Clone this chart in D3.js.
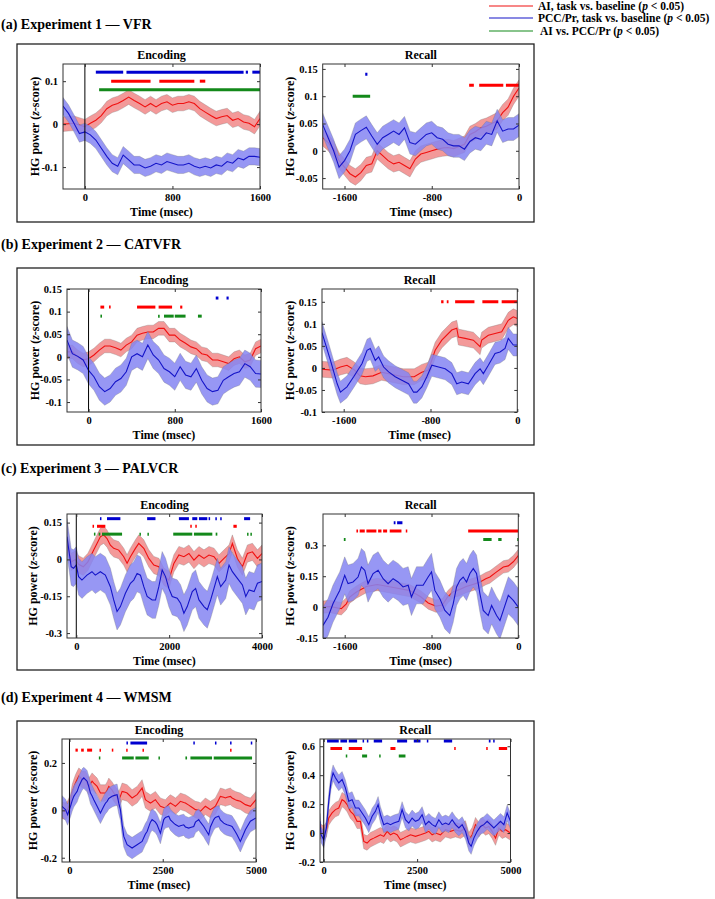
<!DOCTYPE html>
<html>
<head>
<meta charset="utf-8">
<script src="https://cdn.jsdelivr.net/npm/d3@7"></script>
<style>
  body { margin: 0; background: #fff; }
  svg text { font-family: "Liberation Serif", "Times New Roman", serif; font-weight: bold; fill: #000; }
</style>
</head>
<body>
<div id="chart"></div>
<script>
// ---- data (ms, z-score) ----
// (a) VFR
var aEncT = d3.range(-200, 1601, 50);
var aEncRed = [0,0.001,0.002,-0.002,-0.006,0.002,0.009,0.02,0.036,0.044,0.048,0.055,0.063,0.055,0.048,0.04,0.048,0.04,0.048,0.052,0.044,0.048,0.048,0.052,0.048,0.036,0.028,0.02,0.013,0.017,0.02,0.009,0.013,0.005,0.002,-0.006,0.013];
var aEncBlue = [0.042,0.025,0.002,-0.022,-0.018,-0.025,-0.037,-0.056,-0.075,-0.091,-0.098,-0.072,-0.083,-0.095,-0.095,-0.102,-0.098,-0.091,-0.095,-0.087,-0.091,-0.095,-0.095,-0.091,-0.098,-0.102,-0.098,-0.102,-0.095,-0.098,-0.087,-0.091,-0.079,-0.083,-0.075,-0.075,-0.077];
var aRecT = d3.range(-1800, 1, 50);
var aRecRed = [0.024,0.015,0.003,-0.018,-0.03,-0.042,-0.048,-0.04,-0.027,-0.024,0,-0.009,-0.018,-0.024,-0.021,-0.027,-0.033,-0.015,-0.006,-0.003,0,0.003,0.005,0.006,0.004,0.008,0.012,0.03,0.035,0.042,0.045,0.05,0.055,0.07,0.08,0.1,0.115];
var aRecBlue = [0.048,0.024,0,-0.03,-0.018,0,0.03,0.037,0.043,0.027,0.012,0.024,0.03,0.036,0.03,0.042,0.015,0.012,0.021,0.03,0.033,0.024,0.021,0.012,0.009,0.009,0.003,0.017,0.024,0.021,0.033,0.03,0.055,0.036,0.04,0.04,0.047];
var aSE = {encRed: 0.017, encBlue: 0.02, recRed: 0.015, recBlue: 0.021};
var aEncSig = {blue: [[100,350],[380,1450],[1470,1490],[1530,1600]], red: [[240,600],[680,1000],[1050,1100]], green: [[130,1600]]};
var aRecSig = {blue: [[-1410,-1390]], red: [[-457,-414],[-365,-144],[-120,0]], green: [[-1525,-1365]]};

// (b) CATVFR
var bEncT = d3.range(-200, 1601, 50);
var bEncRed = [0.011,0.011,0,-0.007,-0.004,0.004,0.015,0.024,0.024,0.02,0.015,0.026,0.033,0.048,0.052,0.055,0.055,0.063,0.063,0.048,0.048,0.037,0.03,0.022,0.018,0.007,0.004,-0.007,-0.007,-0.011,-0.015,-0.004,0,-0.011,-0.007,0.018,0.024];
var bEncBlue = [0.037,0.007,0.001,-0.007,-0.03,-0.044,-0.066,-0.077,-0.07,-0.055,-0.048,-0.033,0,0.007,0,0.026,0.004,-0.007,-0.026,-0.033,-0.044,-0.022,-0.04,-0.044,-0.026,-0.052,-0.07,-0.077,-0.074,-0.052,-0.044,-0.037,-0.033,-0.015,-0.022,-0.037,-0.038];
var bRecRedT = [-1800,-1700,-1630,-1570,-1500,-1450,-1400,-1330,-1250,-1150,-1050,-950,-880,-820,-757,-696,-604,-558,-543,-481,-405,-343,-328,-267,-205,-144,-83,-37,0];
var bRecRed = [-0.003,-0.005,0.002,0.006,-0.005,-0.018,-0.02,-0.018,-0.01,-0.015,-0.02,-0.02,-0.01,-0.005,0.04,0.063,0.086,0.09,0.07,0.067,0.063,0.048,0.063,0.074,0.078,0.082,0.108,0.116,0.112];
var bRecBlueT = [-1800,-1722,-1660,-1630,-1570,-1508,-1431,-1385,-1355,-1309,-1278,-1232,-1186,-1125,-1064,-1002,-956,-926,-880,-834,-788,-726,-665,-604,-558,-512,-451,-389,-343,-313,-267,-205,-159,-113,-83,-37,0];
var bRecBlue = [0.08,0.017,-0.036,-0.055,-0.043,-0.02,0.01,0.04,0.044,0.017,0.025,0.002,-0.009,-0.02,-0.028,-0.036,-0.055,-0.055,-0.043,-0.02,0.006,0.002,-0.002,-0.013,-0.036,-0.032,-0.036,-0.013,-0.002,-0.013,0.006,0.033,0.036,0.044,0.067,0.052,0.052];
var bSE = {encRed: 0.015, encBlue: 0.03, recRed: 0.018, recBlue: 0.025};
var bEncSig = {blue: [[1180,1205],[1280,1300]], red: [[110,145],[190,205],[450,620],[650,775],[850,870]], green: [[110,125],[645,660],[700,790],[800,900],[1015,1050]]};
var bRecSig = {blue: [], red: [[-702,-680],[-650,-634],[-573,-395],[-322,-175],[-144,0]], green: []};

// (c) PALVCR
var cEncRedT = [-200,-160,-110,-20,50,150,250,375,446,518,590,662,734,806,914,1022,1094,1166,1274,1346,1454,1562,1670,1778,1886,1994,2102,2210,2318,2426,2534,2642,2750,2858,2966,3074,3182,3290,3362,3470,3578,3686,3794,3902,4000];
var cEncRed = [0.06,0.04,-0.01,0,-0.02,-0.03,-0.01,0.038,0.065,0.092,0.1,0.085,0.058,0.045,0.038,0.011,-0.016,0.011,0.045,0.065,0.045,0.004,-0.023,-0.03,-0.07,-0.084,-0.016,0.018,0.011,0.024,-0.003,0.018,0.004,0.018,0.011,-0.016,0.004,0.024,0.065,0.004,-0.03,0.024,0.031,0.004,0.024];
var cEncBlueT = [-200,-160,-110,-60,0,50,122,230,338,410,518,626,734,806,878,950,1058,1166,1238,1310,1382,1454,1526,1634,1706,1778,1850,1922,1994,2066,2174,2246,2318,2390,2498,2570,2642,2750,2822,2894,2966,3038,3110,3218,3290,3362,3470,3578,3650,3722,3830,3902,4000];
var cEncBlue = [0.092,0.038,-0.03,-0.036,-0.023,-0.07,-0.084,-0.064,-0.05,-0.064,-0.05,-0.064,-0.111,-0.165,-0.212,-0.192,-0.138,-0.097,-0.084,-0.057,-0.064,-0.111,-0.151,-0.165,-0.165,-0.111,-0.043,-0.07,-0.118,-0.151,-0.158,-0.178,-0.219,-0.192,-0.131,-0.118,-0.165,-0.192,-0.205,-0.165,-0.118,-0.07,-0.111,-0.084,-0.023,-0.05,-0.077,-0.104,-0.151,-0.124,-0.131,-0.097,-0.09];
var cRecRedT = [-1800,-1738,-1677,-1631,-1585,-1554,-1492,-1400,-1300,-1200,-1100,-1000,-900,-830,-760,-700,-650,-600,-540,-480,-420,-360,-300,-262,-200,-138,-92,-46,0];
var cRecRed = [0,0.003,-0.003,-0.008,0.016,0.049,0.073,0.1,0.11,0.1,0.09,0.08,0.05,0.02,0.005,0.01,0.05,0.075,0.085,0.1,0.11,0.12,0.138,0.146,0.171,0.195,0.2,0.22,0.25];
var cRecBlueT = [-1800,-1754,-1708,-1677,-1646,-1600,-1569,-1523,-1477,-1446,-1415,-1385,-1338,-1292,-1246,-1200,-1154,-1108,-1062,-1015,-985,-938,-877,-831,-800,-769,-723,-677,-631,-600,-569,-538,-508,-477,-446,-415,-385,-354,-323,-277,-246,-200,-169,-138,-92,-46,0];
var cRecBlue = [-0.089,-0.049,0.016,0.049,0.081,0.154,0.114,0.122,0.146,0.195,0.179,0.114,0.163,0.179,0.138,0.114,0.138,0.122,0.098,0.106,0.049,0.106,0.106,0.146,0.171,0.081,0.041,-0.016,-0.041,0.016,0.098,0.13,0.146,0.122,0.163,0.187,0.163,0.065,-0.016,-0.041,0.008,-0.041,-0.065,-0.016,0.057,0.033,0];
var cSE = {encRed: 0.035, encBlue: 0.075, recRed: 0.03, recBlue: 0.09};
var cEncSig = {blue: [[510,525],[662,950],[1526,1706],[2210,2426],[2498,2606],[2642,2822],[2850,2866],[2995,3010],[3100,3118],[3614,3744]], red: [[350,370],[446,626],[2455,2470],[2563,2578],[3384,3456]], green: [[380,395],[482,518],[554,986],[1360,1376],[1532,1548],[2088,2498],[2534,2930],[3002,3038],[3678,3694],[3750,3766]]};
var cRecSig = {blue: [[-1148,-1132],[-1117,-1068]], red: [[-1492,-1477],[-1462,-1415],[-1400,-1308],[-1292,-1261],[-1246,-1209],[-1185,-1077],[-1037,-1025],[-462,0]], green: [[-1608,-1592],[-323,-246],[-185,-154],[-10,0]]};

// (d) WMSM
var dEncT = [-200,-107,-50,27,71,116,161,205,250,295,339,384,429,473,518,563,607,652,741,830,920,964,1009,1054,1143,1188,1277,1322,1366,1411,1456,1545,1679,1813,1947,2036,2081,2170,2215,2304,2349,2438,2527,2572,2661,2706,2795,2840,2929,2974,3063,3108,3197,3242,3331,3376,3465,3510,3599,3643,3733,3777,3867,3911,4001,4045,4135,4179,4224,4313,4358,4447,4492,4581,4715,4849,5000];
var dEncRed = [0,-0.004,0.005,0.03,0.073,0.095,0.115,0.13,0.144,0.138,0.13,0.13,0.13,0.115,0.101,0.112,0.123,0.115,0.101,0.073,0.073,0.073,0.085,0.101,0.085,0.073,0.055,0.045,0.06,0.08,0.078,0.073,0.052,0.066,0.094,0.045,0.04,0.031,0.035,0.045,0.035,0.017,0.012,0.01,0.025,0.031,0.022,0.017,0.03,0.038,0.033,0.031,0.022,0.017,0.008,0.003,0,-0.004,0.01,0.017,0.008,0.003,0.012,0.017,0.045,0.059,0.055,0.052,0.055,0.059,0.052,0.045,0.042,0.038,0.024,0.017,0.045];
var dEncBlue = [0.017,0.003,-0.018,0.017,0.04,0.059,0.07,0.08,0.1,0.115,0.13,0.137,0.13,0.123,0.1,0.073,0.06,0.045,0.017,-0.011,0.017,0.03,0.038,0.05,0.059,0.062,0.066,0.03,0.003,-0.06,-0.11,-0.145,-0.159,-0.145,-0.131,-0.1,-0.089,-0.05,-0.039,-0.05,-0.061,-0.096,-0.039,-0.03,-0.025,-0.04,-0.054,-0.06,-0.068,-0.065,-0.061,-0.07,-0.075,-0.072,-0.068,-0.05,-0.039,-0.05,-0.068,-0.08,-0.103,-0.07,-0.039,-0.03,-0.025,-0.04,-0.054,-0.058,-0.061,-0.065,-0.068,-0.09,-0.103,-0.131,-0.082,-0.046,-0.032];
var dRecRedT = [-100,-89,0,71,134,223,313,402,491,554,625,714,804,893,982,1072,1161,1250,1339,1429,1518,1607,1697,1786,1875,1964,2054,2143,2232,2322,2456,2590,2724,2813,2902,2992,3125,3260,3393,3527,3661,3795,3885,3974,4063,4152,4241,4331,4420,4509,4599,4688,4777,4867,5000];
var dRecRed = [0.016,0.012,0,0.023,0.104,0.139,0.162,0.173,0.231,0.22,0.197,0.15,0.127,0.081,0.081,-0.058,-0.069,-0.046,-0.035,-0.023,-0.012,-0.023,0.012,-0.012,0,-0.012,-0.046,-0.035,-0.023,-0.012,-0.023,-0.012,0,0.012,-0.012,0,-0.012,0.023,0.012,0.023,0.012,0.035,-0.046,-0.012,0.058,0.023,0.058,0.035,0.046,0.012,-0.035,0.035,0.012,0.023,0];
var dRecBlueT = [-100,-71,0,71,134,196,250,313,402,491,580,670,759,848,938,1027,1116,1206,1295,1384,1456,1518,1607,1697,1786,1875,2009,2098,2188,2277,2366,2456,2545,2634,2724,2813,2902,2992,3081,3170,3260,3349,3438,3527,3617,3706,3795,3885,3947,4019,4108,4197,4286,4376,4465,4554,4643,4733,4822,4911,5000];
var dRecBlue = [0.081,-0.012,-0.046,0.035,0.22,0.358,0.416,0.382,0.347,0.37,0.312,0.22,0.231,0.173,0.173,0.139,0.104,0.058,0.116,0.15,0.197,0.127,0.058,0.069,0.058,0.069,0.081,0.162,0.092,0.069,0.104,0.081,0.092,0.127,0.058,0.081,0.058,0.046,0.092,0.058,0.069,0.058,0.092,0.058,0.035,0.058,0.012,-0.069,-0.092,-0.035,0.012,0.046,0.058,0.081,0.058,0.035,0.058,0.081,0.058,0.139,0.081];
var dSE = {encRed: 0.035, encBlue: 0.045, recRed: 0.05, recBlue: 0.055};
var dEncSig = {blue: [[1527,1563],[1634,2081],[3320,3340],[3900,3920],[4305,4320],[4860,4875]], red: [[161,223],[313,384],[473,607],[805,820],[1135,1150],[1520,1535],[1957,1972],[4305,4320]], green: [[788,802],[1411,1723],[1768,2125],[2385,2400],[3108,3152],[3242,3822],[3867,4894]]};
var dRecSig = {blue: [[89,402],[446,625],[670,893],[1040,1055],[1155,1170],[1339,1563],[1965,2232],[2411,2590],[2760,2775],[3215,3438],[4420,4465],[4536,4572]], red: [[179,491],[670,1027],[1786,1920],[3493,3508],[4350,4365],[4688,4911]], green: [[590,605],[1027,1161],[1484,1499],[2009,2188]]};

var legendLabels = ["AI, task vs. baseline (", "PCC/Pr, task vs. baseline (", "AI vs. PCC/Pr ("];

var RED = "#f01010", BLUE = "#1414c8", GREEN = "#13891a";

function zip(t, v) { return t.map(function (d, i) { return [d, v[i]]; }); }

// ---- panels ----
var panels = [
  { title: "(a) Experiment 1 \u2014 VFR", titleY: 29, box: [17, 44, 534, 222],
    enc: { x: [63, 260], y: [64, 189], xd: [-200, 1600], yd: [-0.151, 0.14], xt: [0, 800, 1600], yt: [-0.1, 0, 0.1], labX: 35,
           red: zip(aEncT, aEncRed), blue: zip(aEncT, aEncBlue), seR: aSE.encRed, seB: aSE.encBlue, sig: aEncSig, sigY: [0.121, 0.1, 0.08], zero: true },
    rec: { x: [322.7, 519], y: [64, 189], xd: [-1800, 0], yd: [-0.07, 0.159], xt: [-1600, -800, 0], yt: [-0.05, 0, 0.05, 0.1, 0.15], labX: 290,
           red: zip(aRecT, aRecRed), blue: zip(aRecT, aRecBlue), seR: aSE.recRed, seB: aSE.recBlue, sig: aRecSig, sigY: [0.14, 0.12, 0.1], zero: false } },
  { title: "(b) Experiment 2 \u2014 CATVFR", titleY: 249, box: [17, 268, 534, 445],
    enc: { x: [67, 261], y: [289, 412], xd: [-200, 1600], yd: [-0.122, 0.15], xt: [0, 800, 1600], yt: [-0.1, -0.05, 0, 0.05, 0.1, 0.15], labX: 35,
           red: zip(bEncT, bEncRed), blue: zip(bEncT, bEncBlue), seR: bSE.encRed, seB: bSE.encBlue, sig: bEncSig, sigY: [0.13, 0.11, 0.09], zero: true },
    rec: { x: [322, 517.3], y: [289, 412], xd: [-1800, 0], yd: [-0.1, 0.179], xt: [-1600, -800, 0], yt: [-0.1, -0.05, 0, 0.05, 0.1, 0.15], labX: 290,
           red: zip(bRecRedT, bRecRed), blue: zip(bRecBlueT, bRecBlue), seR: bSE.recRed, seB: bSE.recBlue, sig: bRecSig, sigY: [0.17, 0.15, 0.13], zero: false } },
  { title: "(c) Experiment 3 \u2014 PALVCR", titleY: 473, box: [17, 493, 534, 670],
    enc: { x: [67, 262], y: [514, 638], xd: [-200, 4000], yd: [-0.32, 0.185], xt: [0, 2000, 4000], yt: [-0.3, -0.15, 0, 0.15], labX: 33,
           red: zip(cEncRedT, cEncRed), blue: zip(cEncBlueT, cEncBlue), seR: cSE.encRed, seB: cSE.encBlue, sig: cEncSig, sigY: [0.166, 0.135, 0.103], zero: true },
    rec: { x: [323, 518.3], y: [514, 638], xd: [-1800, 0], yd: [-0.15, 0.452], xt: [-1600, -800, 0], yt: [-0.15, 0, 0.15, 0.3], labX: 290,
           red: zip(cRecRedT, cRecRed), blue: zip(cRecBlueT, cRecBlue), seR: cSE.recRed, seB: cSE.recBlue, sig: cRecSig, sigY: [0.41, 0.37, 0.328], zero: false } },
  { title: "(d) Experiment 4 \u2014 WMSM", titleY: 702, box: [17, 721, 534, 898],
    enc: { x: [62, 256], y: [739, 862], xd: [-200, 5000], yd: [-0.218, 0.301], xt: [0, 2500, 5000], yt: [-0.2, 0, 0.2], labX: 33,
           red: zip(dEncT, dEncRed), blue: zip(dEncT, dEncBlue), seR: dSE.encRed, seB: dSE.encBlue, sig: dEncSig, sigY: [0.284, 0.254, 0.221], zero: true },
    rec: { x: [320, 510.5], y: [739, 862], xd: [-100, 5000], yd: [-0.2, 0.65], xt: [0, 2500, 5000], yt: [-0.2, 0, 0.2, 0.4, 0.6], labX: 290,
           red: zip(dRecRedT, dRecRed), blue: zip(dRecBlueT, dRecBlue), seR: dSE.recRed, seB: dSE.recBlue, sig: dRecSig, sigY: [0.636, 0.585, 0.532], zero: true } }
];

var svg = d3.select("#chart").append("svg")
  .attr("width", 715).attr("height", 899);

var clipId = 0;

function drawPlot(p, name) {
  var x = d3.scaleLinear().domain(p.xd).range(p.x);
  var y = d3.scaleLinear().domain(p.yd).range([p.y[1], p.y[0]]);
  var g = svg.append("g");
  var id = "clip" + (clipId++);
  g.append("clipPath").attr("id", id).append("rect")
    .attr("x", p.x[0]).attr("y", p.y[0]).attr("width", p.x[1] - p.x[0]).attr("height", p.y[1] - p.y[0]);
  var inner = g.append("g").attr("clip-path", "url(#" + id + ")");

  function band(data, se, fill, op) {
    inner.append("path").datum(data)
      .attr("d", d3.area().x(function (d) { return x(d[0]); })
        .y0(function (d) { return y(d[1] - se); }).y1(function (d) { return y(d[1] + se); }))
      .attr("fill", fill).attr("fill-opacity", op)
      .attr("stroke", "#777").attr("stroke-width", 0.5).attr("stroke-opacity", 0.6);
  }
  function line(data, col) {
    inner.append("path").datum(data)
      .attr("d", d3.line().x(function (d) { return x(d[0]); }).y(function (d) { return y(d[1]); }))
      .attr("fill", "none").attr("stroke", col).attr("stroke-width", 1.1);
  }
  band(p.red, p.seR, "#f07f7f", 0.8);
  line(p.red, RED);
  band(p.blue, p.seB, "#8585f2", 0.85);
  line(p.blue, BLUE);

  if (p.zero) {
    g.append("line").attr("x1", x(0)).attr("x2", x(0)).attr("y1", p.y[0]).attr("y2", p.y[1])
      .attr("stroke", "#000").attr("stroke-width", 1);
  }

  // significance bars
  [["blue", "#0000d0", 0], ["red", "#ff0000", 1], ["green", GREEN, 2]].forEach(function (s) {
    inner.selectAll(null).data(p.sig[s[0]]).enter().append("line")
      .attr("x1", function (d) { return x(d[0]); })
      .attr("x2", function (d) { return Math.max(x(d[1]), x(d[0]) + 1.5); })
      .attr("y1", y(p.sigY[s[2]])).attr("y2", y(p.sigY[s[2]]))
      .attr("stroke", s[1]).attr("stroke-width", 3);
  });

  // axes, MATLAB style box with inward ticks
  var fmt = function (d) { return String(d); };
  g.append("g").attr("transform", "translate(0," + p.y[1] + ")")
    .call(d3.axisBottom(x).tickValues(p.xt).tickFormat(fmt).tickSizeInner(-3).tickSizeOuter(0).tickPadding(5));
  g.append("g").attr("transform", "translate(0," + p.y[0] + ")")
    .call(d3.axisTop(x).tickValues(p.xt).tickFormat("").tickSizeInner(-3).tickSizeOuter(0));
  g.append("g").attr("transform", "translate(" + p.x[0] + ",0)")
    .call(d3.axisLeft(y).tickValues(p.yt).tickFormat(fmt).tickSizeInner(-3).tickSizeOuter(0).tickPadding(5));
  g.append("g").attr("transform", "translate(" + p.x[1] + ",0)")
    .call(d3.axisRight(y).tickValues(p.yt).tickFormat("").tickSizeInner(-3).tickSizeOuter(0));
  g.selectAll(".domain").remove();
  g.selectAll(".tick line").attr("stroke", "#333");
  g.selectAll(".tick text").style("font-size", "10.5px").style("font-family", "Liberation Serif").style("font-weight", "bold");

  g.append("rect").attr("x", p.x[0]).attr("y", p.y[0])
    .attr("width", p.x[1] - p.x[0]).attr("height", p.y[1] - p.y[0])
    .attr("fill", "none").attr("stroke", "#333").attr("stroke-width", 1);

  var cx = (p.x[0] + p.x[1]) / 2;
  g.append("text").attr("x", cx).attr("y", p.y[0] - 5).attr("text-anchor", "middle")
    .style("font-size", "12px").text(name);
  g.append("text").attr("x", cx).attr("y", p.y[1] + 27).attr("text-anchor", "middle")
    .style("font-size", "12px").text("Time (msec)");
  var yl = g.append("text")
    .attr("transform", "translate(" + p.labX + "," + ((p.y[0] + p.y[1]) / 2) + ") rotate(-90)")
    .attr("text-anchor", "middle").attr("dy", "0.35em").style("font-size", "12px");
  yl.append("tspan").text("HG power (");
  yl.append("tspan").style("font-style", "italic").text("z");
  yl.append("tspan").text("-score)");
}

panels.forEach(function (pn) {
  svg.append("rect").attr("x", pn.box[0]).attr("y", pn.box[1])
    .attr("width", pn.box[2] - pn.box[0]).attr("height", pn.box[3] - pn.box[1])
    .attr("fill", "none").attr("stroke", "#222").attr("stroke-width", 1.3);
  svg.append("text").attr("x", 1).attr("y", pn.titleY).style("font-size", "14px").text(pn.title);
  drawPlot(pn.enc, "Encoding");
  drawPlot(pn.rec, "Recall");
});

// legend
var legCols = [RED, BLUE, GREEN];
var legY = [6, 18, 31];
legendLabels.forEach(function (lab, i) {
  svg.append("line").attr("x1", 489).attr("x2", 533).attr("y1", legY[i]).attr("y2", legY[i])
    .attr("stroke", legCols[i]).attr("stroke-width", 1.2);
  var t = svg.append("text").attr("x", i === 2 ? 540 : 538).attr("y", legY[i] + 4).style("font-size", "11.5px");
  t.append("tspan").text(lab);
  t.append("tspan").style("font-style", "italic").text("p");
  t.append("tspan").text(" < 0.05)");
});
</script>
</body>
</html>
